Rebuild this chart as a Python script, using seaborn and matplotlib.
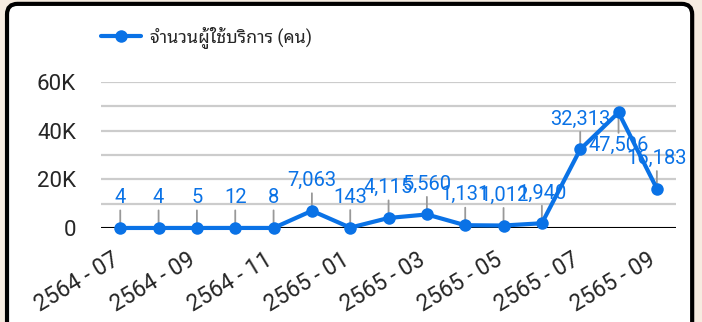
import numpy as np
import pandas as pd
import matplotlib
matplotlib.use("Agg")
import matplotlib.pyplot as plt
from matplotlib.patches import FancyBboxPatch
from matplotlib import font_manager
import seaborn as sns

# monthly users (Thai Buddhist-era year - month)
months = ["2564 - 07", "2564 - 08", "2564 - 09", "2564 - 10", "2564 - 11",
          "2564 - 12", "2565 - 01", "2565 - 02", "2565 - 03", "2565 - 04",
          "2565 - 05", "2565 - 06", "2565 - 07", "2565 - 08", "2565 - 09"]
users = [4, 4, 5, 12, 8, 7063, 143, 4115, 5560, 1131, 1012, 1940, 32313, 47506, 16183]
label_below = [False] * 13 + [True, False]
series_name = "จำนวนผู้ใช้บริการ (คน)"
ytick_vals = [0, 20000, 40000, 60000]
ytick_labels = ["0", "20K", "40K", "60K"]

blue = "#0a72e6"
bg = "#f6ece1"

# pick a font that actually has thai glyphs, looped ones first
pref = ["Noto Sans Thai Looped", "Loma", "Garuda", "Noto Serif Thai", "Norasi",
        "Kinnari", "Sawasdee", "Waree", "Umpush", "Laksaman", "Tlwg Typo"]
installed = set(f.name for f in font_manager.fontManager.ttflist)
thai_fonts = [n for n in pref if n in installed]
thai_fonts += sorted(n for n in installed if "Thai" in n and n not in thai_fonts)

sns.set_style("white")
plt.rcParams["font.family"] = ["Roboto"] + thai_fonts + ["DejaVu Sans"]

df = pd.DataFrame({"x": np.arange(len(months)), "users": users})

fig = plt.figure(figsize=(7.02, 3.22), dpi=100, facecolor=bg)
box = FancyBboxPatch((0.010, -0.1), 0.976, 1.088, boxstyle="round,pad=0,rounding_size=0.015",
                     mutation_aspect=702 / 322, transform=fig.transFigure,
                     facecolor="white", edgecolor="black", linewidth=3, zorder=-10)
fig.patches.append(box)

ax = fig.add_axes([0.144, 0.292, 0.819, 0.453])
ax.set_facecolor("none")

sns.lineplot(data=df, x="x", y="users", ax=ax, color=blue, linewidth=3,
             marker="o", markersize=9, markeredgewidth=0, label=series_name,
             clip_on=False, zorder=5)

for i, v in enumerate(users):
    below = label_below[i]
    ax.annotate(f"{v:,}", xy=(i, v), xytext=(0, -17 if below else 15),
                textcoords="offset points", ha="center",
                va="top" if below else "bottom", fontsize=14.5, color=blue,
                arrowprops=dict(arrowstyle="-", color="#999999", lw=1.3,
                                shrinkA=0, shrinkB=0),
                zorder=4, annotation_clip=False)

ax.set_xlim(-0.5, 14.5)
ax.set_ylim(0, 60000)
ax.set_yticks(ytick_vals)
ax.set_yticklabels(ytick_labels)
ax.set_yticks([10000, 30000, 50000], minor=True)
ax.grid(axis="y", which="both", color="#cccccc", linewidth=1.6)
ax.grid(axis="x", visible=False)
ax.axhline(0, color="black", linewidth=2.2, zorder=3)
ax.set_xticks(df["x"][::2])
ax.set_xticklabels(months[::2], rotation=31, ha="right", va="baseline",
                   rotation_mode="anchor")
ax.tick_params(axis="y", length=0, pad=18, labelsize=16)
ax.tick_params(axis="x", length=0, pad=25.5, labelsize=16.3)
ax.tick_params(which="minor", length=0)
ax.set_xlabel("")
ax.set_ylabel("")
for s in ax.spines.values():
    s.set_visible(False)

leg = ax.legend(loc="center left", bbox_to_anchor=(0.144, 0.885),
                bbox_transform=fig.transFigure, frameon=False, fontsize=12.8,
                handlelength=2.25, handletextpad=0.5, borderpad=0,
                borderaxespad=0)

fig.savefig("out.png", dpi=100, facecolor=bg)
